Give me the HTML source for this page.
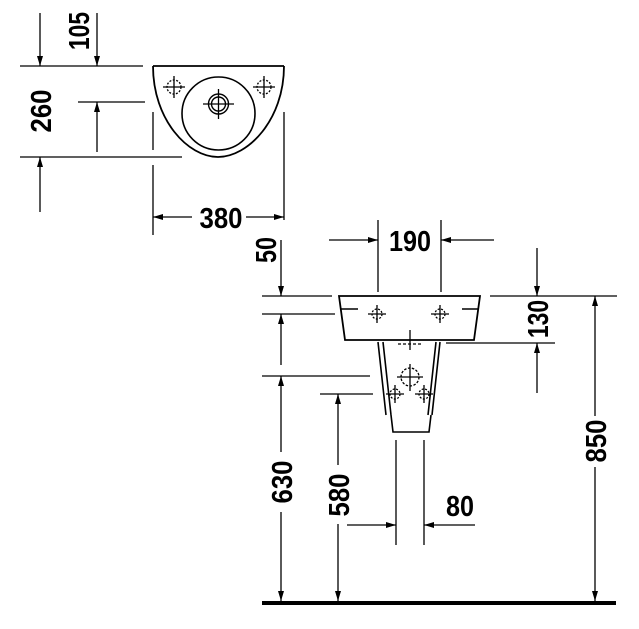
<!DOCTYPE html>
<html><head><style>body{margin:0;background:#fff}svg{display:block}text{font-family:"Liberation Sans",sans-serif;font-weight:bold;font-size:29px;fill:#000}</style></head>
<body>
<svg width="639" height="629" viewBox="0 0 639 629" xmlns="http://www.w3.org/2000/svg">
<defs>
<marker id="a" viewBox="0 0 10 6" refX="10" refY="3" markerWidth="10" markerHeight="6" markerUnits="userSpaceOnUse" orient="auto"><path d="M0,0L10,3L0,6z" fill="#000"/></marker>
</defs>
<g stroke="#000" stroke-width="1.3" fill="none">
<!-- top view -->
<path d="M153,66H284M153,66C153,120 188,157 218,157C248,157 284,120 284,66" stroke-width="1.8"/>
<circle cx="218.5" cy="113.5" r="36.5" stroke-width="1.6"/>
<circle cx="218.5" cy="104" r="10" stroke-width="1.4"/>
<circle cx="218.5" cy="104" r="7" stroke-width="1.4"/>
<path d="M203,104H234M218.5,89V119"/>
<circle cx="174" cy="87" r="7" stroke-dasharray="2,1.5"/><path d="M163,87H185M174,76V98"/>
<circle cx="264" cy="87" r="7" stroke-dasharray="2,1.5"/><path d="M253,87H275M264,76V98"/>
<path d="M20,66H143M78,102H145M20,157H182M153,112V150M153,165V235M284,112V220"/>
<path d="M40,13V66" marker-end="url(#a)"/><path d="M97,13V66" marker-end="url(#a)"/>
<path d="M97,152V102" marker-end="url(#a)"/><path d="M40,212V157" marker-end="url(#a)"/>
<path d="M192,217H153" marker-end="url(#a)"/><path d="M246,217H284" marker-end="url(#a)"/>
<!-- side view basin -->
<path d="M339,296H480L474,340H345Z" stroke-width="1.8"/>
<path d="M341,309H358M462,309H478" stroke-width="1.6"/>
<circle cx="377" cy="314" r="5" stroke-dasharray="2,1.5"/><path d="M368,314H386M377,305V323"/>
<circle cx="440" cy="314" r="5" stroke-dasharray="2,1.5"/><path d="M431,314H449M440,305V323"/>
<!-- pedestal -->
<path d="M378,342L386,415M383,342L391,415M391,415L393,432H429L431,415M440,342L432,415M436,342L428,415" stroke-width="1.6"/>
<path d="M398,344H422" stroke-dasharray="3,2"/><path d="M410,330V350"/>
<circle cx="410" cy="377" r="9" stroke-dasharray="2.5,1.5"/><path d="M397,377H423M410,364V391"/>
<circle cx="395" cy="394" r="5" stroke-dasharray="2,1.5"/><path d="M386,394H404M395,385V403"/>
<circle cx="424" cy="394" r="5" stroke-dasharray="2,1.5"/><path d="M415,394H433M424,385V403"/>
<!-- dims side -->
<path d="M378,220V292M441,220V292"/>
<path d="M329,240H378" marker-end="url(#a)"/><path d="M494,240H441" marker-end="url(#a)"/>
<path d="M262,296H332M262,314H335M262,376H370M320,394H373M490,296H617M446,343H555"/>
<path d="M281,240V296" marker-end="url(#a)"/>
<path d="M281,365V314" marker-end="url(#a)"/>
<path d="M281,452V376" marker-end="url(#a)"/><path d="M281,512V601" marker-end="url(#a)"/>
<path d="M338,465V394" marker-end="url(#a)"/><path d="M338,524V601" marker-end="url(#a)"/>
<path d="M537,248V296" marker-end="url(#a)"/><path d="M537,393V343" marker-end="url(#a)"/>
<path d="M595,416V296" marker-end="url(#a)"/><path d="M595,467V601" marker-end="url(#a)"/>
<path d="M396,440V545M424,440V545"/>
<path d="M347,525H396" marker-end="url(#a)"/><path d="M475,525H424" marker-end="url(#a)"/>
</g>
<rect x="262" y="601" width="354" height="4" fill="#000"/>
<text x="221" y="228" textLength="43" lengthAdjust="spacingAndGlyphs" text-anchor="middle">380</text>
<text x="410" y="251" textLength="42" lengthAdjust="spacingAndGlyphs" text-anchor="middle">190</text>
<text x="460" y="516" textLength="28" lengthAdjust="spacingAndGlyphs" text-anchor="middle">80</text>
<text transform="translate(89,31) rotate(-90)" textLength="38" lengthAdjust="spacingAndGlyphs" text-anchor="middle">105</text>
<text transform="translate(51,111) rotate(-90)" textLength="43" lengthAdjust="spacingAndGlyphs" text-anchor="middle">260</text>
<text transform="translate(276,250) rotate(-90)" textLength="26" lengthAdjust="spacingAndGlyphs" text-anchor="middle">50</text>
<text transform="translate(548,319) rotate(-90)" textLength="38" lengthAdjust="spacingAndGlyphs" text-anchor="middle">130</text>
<text transform="translate(606,441) rotate(-90)" textLength="43" lengthAdjust="spacingAndGlyphs" text-anchor="middle">850</text>
<text transform="translate(292,482) rotate(-90)" textLength="43" lengthAdjust="spacingAndGlyphs" text-anchor="middle">630</text>
<text transform="translate(349,495) rotate(-90)" textLength="43" lengthAdjust="spacingAndGlyphs" text-anchor="middle">580</text>
</svg>
</body></html>
